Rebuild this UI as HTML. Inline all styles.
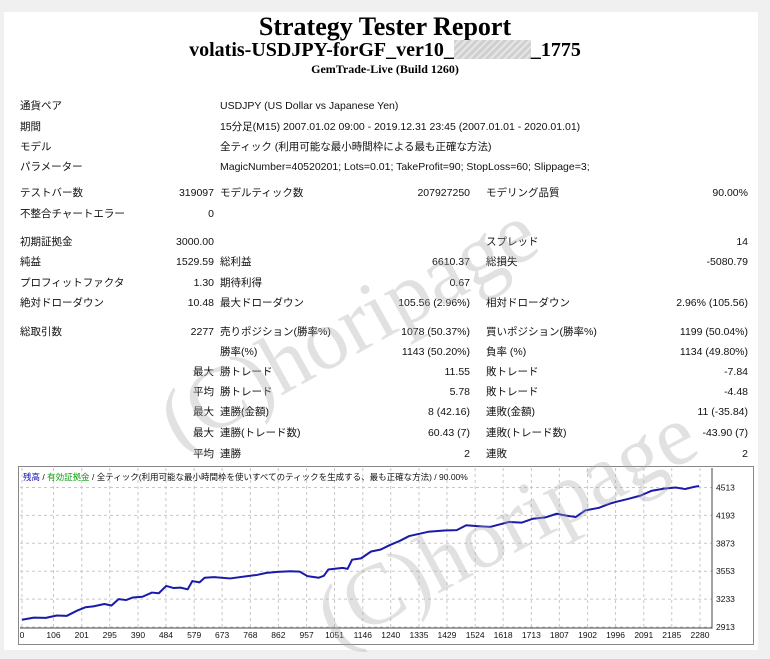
<!DOCTYPE html>
<html><head><meta charset="utf-8"><style>
body{margin:0;width:770px;height:659px;background:#f0f0f0;position:relative;overflow:hidden;font-family:"Liberation Sans","Noto Sans CJK JP",sans-serif;}
#page{position:absolute;left:4px;top:12px;width:754px;height:638px;background:#fff;}
.t{position:absolute;font-size:10.5px;color:#111;white-space:nowrap;line-height:12px;}
.r{text-align:right;}
h1,h2,h3{position:absolute;left:0;width:770px;text-align:center;margin:0;font-family:"Liberation Serif",serif;font-weight:bold;color:#000;}
</style></head><body>
<div id="page"></div>
<h1 style="top:12px;font-size:26px;">Strategy Tester Report</h1>
<h2 style="top:39px;font-size:20px;">volatis-USDJPY-forGF_ver10_<span style="display:inline-block;width:77px;height:19px;vertical-align:-3px;background:repeating-linear-gradient(135deg,#d0d0d0 0 3px,#e6e6e6 3px 5px);"></span>_1775</h2>
<h3 style="top:62px;font-size:12px;">GemTrade-Live (Build 1260)</h3>
<div id="tbl"></div>
<div style="position:absolute;left:18px;top:466px;width:734px;height:177px;border:1px solid #888;background:#fff;"></div>
<svg id="ch" width="770" height="659" style="position:absolute;left:0;top:0;"></svg>
<div class="t" style="left:23px;top:471px;font-size:8.5px;"><span style="color:#1010b0">残高</span> / <span style="color:#10a010">有効証拠金</span> / 全ティック(利用可能な最小時間枠を使いすべてのティックを生成する、最も正確な方法) / 90.00%</div>
<svg width="770" height="659" style="position:absolute;left:0;top:0;pointer-events:none;">
<text x="180" y="452" transform="rotate(-29 180 452)" font-family="Liberation Serif, serif" font-size="86" fill="rgba(170,170,170,0.35)">(C)horipage</text>
<text x="336" y="648" transform="rotate(-28 336 648)" font-family="Liberation Serif, serif" font-size="86" fill="rgba(170,170,170,0.35)">(C)horipage</text>
</svg>
<script>
const rows=[
[106,"通貨ペア","","USDJPY (US Dollar vs Japanese Yen)","","",""],
[127,"期間","","15分足(M15) 2007.01.02 09:00 - 2019.12.31 23:45 (2007.01.01 - 2020.01.01)","","",""],
[147,"モデル","","全ティック (利用可能な最小時間枠による最も正確な方法)","","",""],
[167,"パラメーター","","MagicNumber=40520201; Lots=0.01; TakeProfit=90; StopLoss=60; Slippage=3;","","",""],
[193,"テストバー数","319097","モデルティック数","207927250","モデリング品質","90.00%"],
[214,"不整合チャートエラー","0","","","",""],
[242,"初期証拠金","3000.00","","","スプレッド","14"],
[262,"純益","1529.59","総利益","6610.37","総損失","-5080.79"],
[283,"プロフィットファクタ","1.30","期待利得","0.67","",""],
[303,"絶対ドローダウン","10.48","最大ドローダウン","105.56 (2.96%)","相対ドローダウン","2.96% (105.56)"],
[332,"総取引数","2277","売りポジション(勝率%)","1078 (50.37%)","買いポジション(勝率%)","1199 (50.04%)"],
[352,"","","勝率(%)","1143 (50.20%)","負率 (%)","1134 (49.80%)"],
[372,"","最大","勝トレード","11.55","敗トレード","-7.84"],
[392,"","平均","勝トレード","5.78","敗トレード","-4.48"],
[412,"","最大","連勝(金額)","8 (42.16)","連敗(金額)","11 (-35.84)"],
[433,"","最大","連勝(トレード数)","60.43 (7)","連敗(トレード数)","-43.90 (7)"],
[454,"","平均","連勝","2","連敗","2"]];
const tb=document.getElementById('tbl');
function cell(txt,x,y,right,name){if(!txt)return;const d=document.createElement('div');


d.className='t'+(right?' r':'');d.textContent=txt;
if(right){d.style.right=(770-x)+'px';}else d.style.left=x+'px';d.style.top=(y-6)+'px';tb.appendChild(d);}
rows.forEach(r=>{const y=r[0];cell(r[1],20,y,false,'stat-label');cell(r[2],214,y,true,'stat-value');
cell(r[3],220,y,false,'stat-label');cell(r[4],470,y,true,'stat-value');cell(r[5],486,y,false,'stat-label');cell(r[6],748,y,true,'stat-value');});

const trades=[0,40,80,117,150,185,213,240,277,301,325,350,373,405,437,460,485,510,533,557,573,597,614,646,700,758,790,822,860,902,934,960,998,1015,1030,1078,1095,1110,1140,1174,1205,1238,1270,1302,1366,1420,1462,1494,1530,1574,1638,1680,1718,1760,1798,1830,1862,1894,1940,1974,2000,2038,2080,2118,2160,2198,2230,2260,2277];
const balance=[2996,3020,3018,3045,3040,3100,3139,3150,3177,3160,3233,3222,3252,3260,3308,3300,3384,3360,3365,3345,3440,3425,3478,3485,3470,3497,3510,3534,3545,3553,3548,3496,3478,3500,3572,3591,3580,3685,3700,3779,3800,3854,3900,3956,4005,4020,4024,4080,4070,4061,4118,4110,4155,4170,4212,4190,4174,4250,4280,4325,4350,4382,4420,4476,4500,4513,4495,4520,4530];
const xTicks=[0,106,201,295,390,484,579,673,768,862,957,1051,1146,1240,1335,1429,1524,1618,1713,1807,1902,1996,2091,2185,2280];
const yTicks=[2913,3233,3553,3873,4193,4513];
const L=20,R=712,T=468,B=628;
const xs=v=>22+v*(700-22)/2280;
const ys=v=>627-(v-2913)*(627-487.5)/1600;
const svg=document.getElementById('ch');const NS='http://www.w3.org/2000/svg';
function el(tag,at){const e=document.createElementNS(NS,tag);for(const k in at)e.setAttribute(k,at[k]);svg.appendChild(e);return e;}
xTicks.forEach(t=>{const g=el('line',{x1:xs(t),x2:xs(t),y1:T,y2:B,stroke:'#c8c8c8','stroke-dasharray':'3,3'});


const tx=el('text',{x:xs(t),y:638,'font-size':'8.5','text-anchor':'middle','font-family':'Liberation Sans, sans-serif',fill:'#111'});tx.textContent=t;

});
yTicks.forEach(t=>{const g=el('line',{x1:L,x2:R,y1:ys(t),y2:ys(t),stroke:'#c8c8c8','stroke-dasharray':'3,3'});


const tx=el('text',{x:716,y:ys(t)+3,'font-size':'8.5','font-family':'Liberation Sans, sans-serif',fill:'#111'});tx.textContent=t;

});
const ax=el('path',{d:`M${R},${T}V${B}H${L}`,stroke:'#444',fill:'none'});


const pl=el('polyline',{points:trades.map((t,i)=>xs(t)+','+ys(balance[i])).join(' '),fill:'none',stroke:'#1a1aa8','stroke-width':'2','stroke-linejoin':'round'});


</script>
</body></html>
